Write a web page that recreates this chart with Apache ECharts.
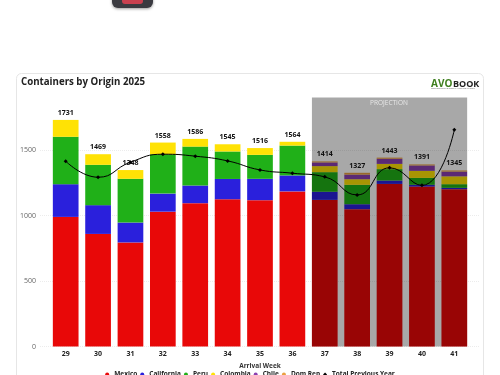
<!DOCTYPE html>
<html><head><meta charset="utf-8">
<style>html,body{margin:0;padding:0;background:#fff;overflow:hidden;width:500px;height:375px}#c{width:500px;height:400px}</style>
<script src="https://cdn.jsdelivr.net/npm/echarts@6/dist/echarts.min.js"></script>
</head><body><div id="c"></div>
<script>
const weeks = ['29','30','31','32','33','34','35','36','37','38','39','40','41'];
const mexico = [990,860,795,1030,1095,1125,1118,1185,1120,1049,1242,1222,1202];
const california = [250,220,152,138,135,155,163,122,62,38,26,13,10];
const peru = [362,308,334,300,297,210,183,228,150,148,87,53,28];
const colombia = [129,81,67,90,59,55,52,29,46,43,40,54,60];
const chile = [0,0,0,0,0,0,0,0,28,35,39,41,36];
const domRep = [0,0,0,0,0,0,0,0,8,14,9,8,9];
const totals = [1731,1469,1348,1558,1586,1545,1516,1564,1414,1327,1443,1391,1345];
const previousYear = [1416,1293,1408,1469,1454,1418,1349,1324,1296,1158,1365,1231,1655];
const yTicks = [0,500,1000,1500];
const projection = [['37','41',1902]];

const font = '"Open Sans","Noto Sans",sans-serif';
const BAR = 25.7;
const stack = [
  ['Mexico', mexico, '#e80808'],
  ['California', california, '#2a20dc'],
  ['Peru', peru, '#20b018'],
  ['Colombia', colombia, '#ffe205'],
  ['Chile', chile, '#8a3fb0'],
  ['Dom Rep', domRep, '#eaa040']
];
const series = stack.map(([name, data, color]) => ({
  name, type:'bar', stack:'o', data, barWidth:BAR, itemStyle:{color}, z:2, silent:true,
  xAxisIndex:0, yAxisIndex:0
}));
series.push({
  type:'custom', xAxisIndex:0, yAxisIndex:0, z:3, silent:true, data:projection,
  encode:{x:[0,1],y:2},
  renderItem(params, api){
    const a = api.coord([api.value(0), api.value(2)]);
    const b = api.coord([api.value(1), 0]);
    return {type:'rect', shape:{x:a[0]-BAR/2, y:a[1], width:b[0]-a[0]+BAR, height:b[1]-a[1]},
      style:{fill:'rgba(0,0,0,0.34)'}};
  }
});
series.push({
  name:'Total Previous Year', type:'line', data:previousYear, smooth:0.5, z:4, silent:true,
  symbol:'diamond', symbolSize:4, lineStyle:{color:'#000',width:1}, itemStyle:{color:'#000'},
  xAxisIndex:0, yAxisIndex:0
});
series.push({
  name:'Totals', type:'line', data:totals, z:5, silent:true, symbol:'circle', symbolSize:1,
  showSymbol:true, showAllSymbol:true, lineStyle:{opacity:0}, itemStyle:{color:'rgba(0,0,0,0)'},
  label:{show:true, position:'top', distance:3, color:'#111', fontFamily:font, fontSize:7, fontWeight:'bold'},
  xAxisIndex:0, yAxisIndex:0
});

const chart = echarts.init(document.getElementById('c'), null, {renderer:'canvas'});
chart.setOption({
  animation:false,
  backgroundColor:'#fff',
  textStyle:{fontFamily:font},
  title:{text:'Containers by Origin 2025', left:21, top:77, padding:0,
    textStyle:{fontFamily:font,fontSize:9.7,fontWeight:'bold',color:'#222'}},
  legend:{
    data:['Mexico','California','Peru','Colombia','Chile','Dom Rep',{name:'Total Previous Year',icon:'diamond'}],
    left:'center', top:371, padding:0, itemWidth:4, itemHeight:4, itemGap:3, icon:'circle',
    textStyle:{fontFamily:font,fontSize:6.5,fontWeight:'bold',color:'#222'}
  },
  grid:[
    {left:49.5,right:29.5,top:97.8,height:248.7},
    {left:40,right:20,top:97.8,height:248.7}
  ],
  xAxis:[
    {type:'category',gridIndex:0,data:weeks,name:'Arrival Week',nameLocation:'middle',nameGap:16.5,nameMoveOverlap:false,
     nameTextStyle:{fontFamily:font,fontSize:6.5,fontWeight:'bold',color:'#333'},
     axisLine:{show:false},axisTick:{show:false},
     axisLabel:{fontFamily:font,fontSize:7,fontWeight:'bold',color:'#222',margin:4}},
    {type:'category',gridIndex:1,data:weeks,show:false}
  ],
  yAxis:[
    {type:'value',gridIndex:0,min:0,max:1900,interval:500,show:false,splitLine:{show:false}},
    {type:'value',gridIndex:1,min:0,max:1900,interval:500,z:1,
     axisLine:{show:false},axisTick:{show:false},
     axisLabel:{fontFamily:font,fontSize:7,color:'#666',margin:4,showMaxLabel:false,
       formatter:v=>yTicks.includes(v)?String(v):''},
     splitLine:{show:true,showMaxLine:false,lineStyle:{color:'#ececec',type:'dotted',width:1}}}
  ],
  series,
  graphic:[
    {type:'rect',z:-1,silent:true,shape:{x:16.5,y:73.5,width:467,height:320,r:5},
     style:{fill:'#fff',stroke:'#e6e6e6',lineWidth:1}},
    {type:'rect',z:10,silent:true,shape:{x:112,y:-12,width:41,height:20,r:6},
     style:{fill:'#3a3a40',shadowBlur:3,shadowColor:'rgba(0,0,0,0.4)',shadowOffsetY:1}},
    {type:'rect',z:11,silent:true,shape:{x:122,y:-8,width:21,height:12,r:3},
     style:{fill:'#c8404f'}},
    {type:'text',z:10,silent:true,x:389,y:103,
     style:{text:'PROJECTION',fill:'#e8e8e8',font:'6.5px '+font,align:'center',verticalAlign:'middle'}},
    {type:'text',z:10,silent:true,x:431,y:84,
     style:{text:'AVO',fill:'#3f7f1f',font:'bold 10px '+font,verticalAlign:'middle'}},
    {type:'text',z:10,silent:true,x:453,y:84,
     style:{text:'BOOK',fill:'#222',font:'bold 9px '+font,verticalAlign:'middle'}},
    {type:'text',z:10,silent:true,x:431,y:88.5,
     style:{text:'CONNECTING THE GLOBAL AVOCADO MARKET',fill:'#555',font:'2px '+font,verticalAlign:'middle'}}
  ]
});
</script></body></html>
